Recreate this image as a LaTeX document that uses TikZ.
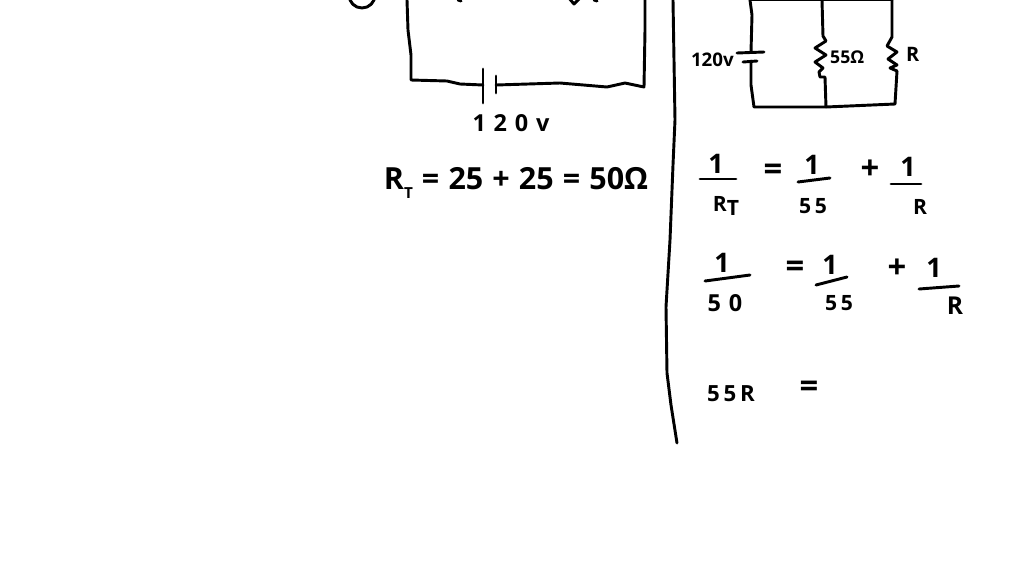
\documentclass[tikz,border=0pt]{standalone}
\usepackage{amsmath}
\usepackage{fontspec}
\setmainfont{Open Sans}
\usetikzlibrary{positioning}
\newcommand{\fs}[1]{\fontsize{#1pt}{#1pt}\selectfont\bfseries}
\newcommand{\subT}{\raisebox{-0.3em}{\fontsize{13pt}{13pt}\selectfont T}}
\begin{document}
\begin{tikzpicture}[
x=0.03cm, y=-0.03cm,
   wire/.style = {line width=2.5pt, line cap=round, line join=round, black},
   hand/.style = {inner sep=0pt, black},
   big/.style = {hand, font=\fs{23}},
   small/.style = {hand, font=\fs{18}},
   bar/.style = {line width=2.5pt, line cap=round, black}
                    ]
\useasboundingbox (0,0) rectangle (1024,576);
% left circuit
\coordinate (lt) at (407,0);
\coordinate (lb) at (411,80);
\coordinate (rt) at (645,0);
\coordinate (rb) at (644,87);
\coordinate (cella) at (483,85);
\coordinate (cellb) at (496,85);
\draw[wire] (lt) -- (408,30) -- (411,55) -- (lb) -- (447,81) -- (460,84) -- (cella);
\draw[wire] (cellb) -- (560,83) -- (607,87) -- (625,83) -- (rb) -- (645,30) -- (rt);
\draw[wire] (483,69) -- (483,103);
\draw[wire] (496,76) -- (496,93);
\draw[wire] (362,-5) circle (13);
\draw[wire] (505,-1) -- (552,-1);
\draw[wire] (458,0) -- (461,1);
\draw[wire] (568,-3) -- (574,4) -- (581,-3);
\draw[wire] (594,0) -- (597,1);
\node (vleft) [hand, font=\fs{20}] at (511,123) {1\,\,2\,\,0\,\,v};
\node (eqleft) [hand, font=\fs{26}] at (516,183) {R\subT{}\hspace{0.3em}=\hspace{0.3em}25\hspace{0.3em}+\hspace{0.3em}25\hspace{0.3em}=\hspace{0.3em}50Ω};
% divider
\coordinate (dt) at (673,0);
\coordinate (db) at (677,443);
\draw[wire] (dt) -- (675,120) -- (673,165) -- (670,240) -- (666,307) -- (667,373) -- (671,405) -- (db);
% right circuit
\coordinate (ta) at (750,0);
\coordinate (tb) at (822,0);
\coordinate (tc) at (892,0);
\coordinate (ba) at (754,107);
\coordinate (bb) at (826,107);
\coordinate (bc) at (895,104);
\draw[wire] (ta) -- (tc);
\draw[wire] (ta) -- (752,15) -- (751,52);
\draw[wire] (751,61) -- (751,85) -- (ba) -- (bb) -- (bc) -- (897,71);
\draw[wire] (737,53) -- (764,52);
\draw[wire] (743,62) -- (757,61);
\draw[wire] (tb) -- (823,36) -- (826,41) -- (815,48) -- (826,55) -- (815,62) -- (823,68) -- (819,72) -- (820,77) -- (825,77) -- (bb);
\draw[wire] (tc) -- (892,37) -- (887,46) -- (897,52) -- (888,59) -- (897,65) -- (890,68) -- (897,71);
\node (vright) [hand, font=\fs{16}, anchor=east] at (734,60) {120v};
\node (ohm) [hand, font=\fs{15}, anchor=west] at (830,57) {55Ω};
\node (rlabel) [hand, font=\fs{17}, anchor=west] at (906,54) {R};
% first equation
\draw[bar] (700,179) -- (736,179);
\draw[bar] (798,182) -- (830,178);
\draw[bar] (891,184) -- (921,184);
\node (a1) [big] at (716,164) {1};
\node (a2) [small] at (726,206) {R\raisebox{-0.15em}{T}};
\node (a3) [big, font=\fs{28}] at (773,172) {=};
\node (a4) [big] at (812,165) {1};
\node (a5) [small] at (813,206) {5\,5};
\node (a6) [big, font=\fs{28}] at (870,170) {+};
\node (a7) [big] at (908,167) {1};
\node (a8) [small] at (920,207) {R};
% second equation
\draw[bar] (705,281) -- (750,275);
\draw[bar] (816,285) -- (847,277);
\draw[bar] (919,289) -- (959,286);
\node (b1) [big] at (722,263) {1};
\node (b2) [small, font=\fs{20}] at (725,303) {5\,\,0};
\node (b3) [big, font=\fs{28}] at (795,269) {=};
\node (b4) [big] at (830,265) {1};
\node (b5) [small] at (839,303) {5\,5};
\node (b6) [big, font=\fs{28}] at (897,269) {+};
\node (b7) [big] at (934,268) {1};
\node (b8) [small, font=\fs{21}] at (955,306) {R};
% third equation
\node (c1) [small, font=\fs{19}] at (731,394) {5\,5\,R};
\node (c2) [big, font=\fs{28}] at (809,389) {=};
\end{tikzpicture}
\end{document}
